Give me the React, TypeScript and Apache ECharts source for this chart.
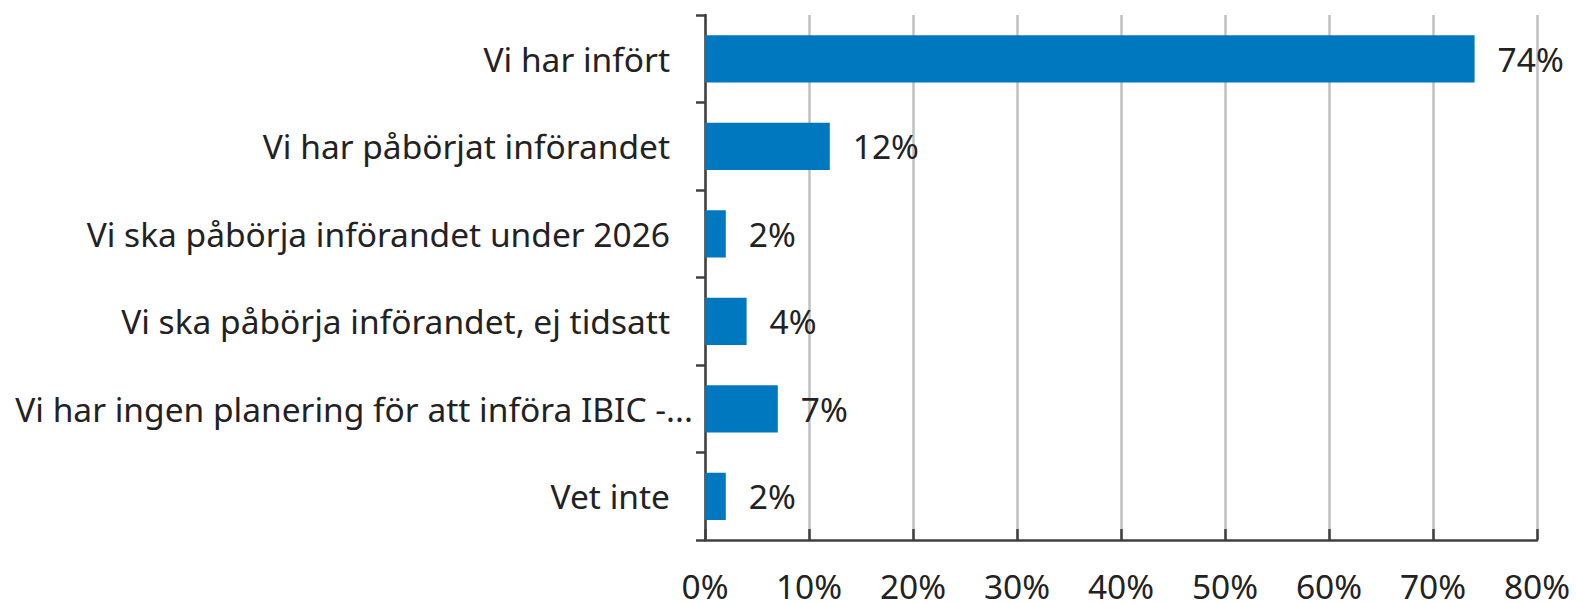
import React, { useEffect, useRef } from "react";
import * as echarts from "echarts";

const categories = [
  "Vi har infört",
  "Vi har påbörjat införandet",
  "Vi ska påbörja införandet under 2026",
  "Vi ska påbörja införandet, ej tidsatt",
  "Vi har ingen planering för att införa IBIC -...",
  "Vet inte",
];
const values = [74, 12, 2, 4, 7, 2];
const xTicks = { min: 0, max: 80, interval: 10 };
const overflowLabel = "Vi har ingen planering för att införa IBIC -...";

export default function App() {
  const ref = useRef<HTMLDivElement>(null);
  useEffect(() => {
    document.body.style.margin = "0";
    const chart = echarts.init(ref.current!, null, { renderer: "svg" });
    const font = "'Noto Sans', sans-serif";
    const fs = 33.5;
    chart.setOption({
      animation: false,
      grid: { left: 705, right: 39, top: 15, bottom: 61, containLabel: false },
      xAxis: {
        type: "value",
        min: xTicks.min,
        max: xTicks.max,
        interval: xTicks.interval,
        axisLine: { show: true, lineStyle: { color: "#404040", width: 2.5 } },
        axisTick: { show: true, inside: true, length: 11, lineStyle: { color: "#404040", width: 2.5 } },
        splitLine: { show: true, lineStyle: { color: "#c0c0c0", width: 2.5 } },
        axisLabel: {
          formatter: "{value}%",
          fontFamily: font,
          fontSize: fs,
          lineHeight: 30,
          color: "#222222",
          margin: 31,
        },
      },
      yAxis: {
        type: "category",
        data: categories.map((c) =>
          c === overflowLabel
            ? { value: c, textStyle: { padding: [0, 0, 0, 0] } }
            : { value: c, textStyle: { padding: [0, 23, 0, 0] } }
        ),
        inverse: true,
        axisLine: { show: true, lineStyle: { color: "#404040", width: 2.5 } },
        axisTick: { show: true, inside: false, length: 9, alignWithLabel: false, lineStyle: { color: "#404040", width: 2.5 } },
        splitLine: { show: false },
        axisLabel: {
          fontFamily: font,
          fontSize: fs,
          color: "#222222",
          margin: 12,
        },
      },
      series: [
        {
          type: "bar",
          data: values,
          barCategoryGap: "46%",
          itemStyle: { color: "#0078BF" },
          label: {
            show: true,
            position: "right",
            distance: 23,
            formatter: "{c}%",
            fontFamily: font,
            fontSize: fs,
            color: "#222222",
          },
        },
      ],
    });
    return () => chart.dispose();
  }, []);
  return <div ref={ref} style={{ width: 1576, height: 603 }} />;
}
